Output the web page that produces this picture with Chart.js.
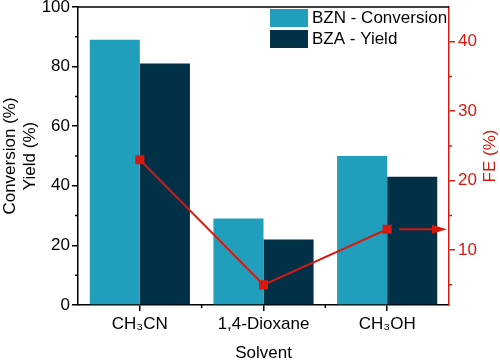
<!DOCTYPE html>
<html>
<head>
<meta charset="utf-8">
<script src="https://cdn.jsdelivr.net/npm/chart.js@4.4.0/dist/chart.umd.min.js"></script>
<style>
  html, body { margin: 0; padding: 0; background: #fff; }
  #wrap { width: 500px; height: 360px; }
</style>
</head>
<body>
<div id="wrap"><canvas id="chart" width="500" height="360"></canvas></div>
<script>
// ---- Data ----
const SOLVENTS = ['CH₃CN', '1,4-Dioxane', 'CH₃OH'];
const CONVERSION = [89, 29, 50];   // BZN - Conversion (%)
const YIELD = [81, 22, 43];        // BZA - Yield (%)
const FE = [23, 5, 13];            // FE (%)
const LEFT_TICKS = [0, 20, 40, 60, 80, 100];
const FE_TICKS = [10, 20, 30, 40];

const FONT = 'Liberation Sans, Arial, Helvetica, sans-serif';
const RED = '#d9190f';
const C_LIGHT = '#219ebc';
const C_DARK = '#023047';

// ---- Extra drawing: frame, minor ticks, arrow, right title, legend ----
const extras = {
    id: 'extras',
    afterDraw(chart) {
        const { ctx, chartArea: a, scales: { x, y, y1 } } = chart;
        ctx.save();

        // top frame line
        ctx.strokeStyle = '#000';
        ctx.lineWidth = 1.5;
        ctx.beginPath();
        ctx.moveTo(a.left, a.top);
        ctx.lineTo(a.right, a.top);
        ctx.stroke();

        // minor ticks left axis
        ctx.beginPath();
        for (let i = 0; i < LEFT_TICKS.length - 1; i++) {
            const py = y.getPixelForValue((LEFT_TICKS[i] + LEFT_TICKS[i + 1]) / 2);
            ctx.moveTo(a.left, py);
            ctx.lineTo(a.left - 3, py);
        }
        // minor ticks x axis (between categories)
        for (let i = 0; i < SOLVENTS.length - 1; i++) {
            const px = (x.getPixelForValue(i) + x.getPixelForValue(i + 1)) / 2;
            ctx.moveTo(px, a.bottom);
            ctx.lineTo(px, a.bottom + 3);
        }
        ctx.stroke();

        // minor ticks right axis
        ctx.strokeStyle = RED;
        ctx.beginPath();
        [5, 15, 25, 35].forEach(v => {
            const py = y1.getPixelForValue(v);
            ctx.moveTo(a.right, py);
            ctx.lineTo(a.right + 3, py);
        });
        ctx.stroke();

        // arrow pointing to FE axis
        const ay = y1.getPixelForValue(FE[2]);
        const ax0 = x.getPixelForValue(2) + 12;
        const tip = a.right - 2;
        ctx.lineWidth = 2;
        ctx.beginPath();
        ctx.moveTo(ax0, ay);
        ctx.lineTo(tip - 12, ay);
        ctx.stroke();
        ctx.fillStyle = RED;
        ctx.beginPath();
        ctx.moveTo(tip, ay);
        ctx.lineTo(tip - 15, ay - 4.5);
        ctx.lineTo(tip - 15, ay + 4.5);
        ctx.closePath();
        ctx.fill();

        // right axis title
        ctx.font = `17px ${FONT}`;
        ctx.textAlign = 'center';
        ctx.textBaseline = 'middle';
        ctx.translate(490, (a.top + a.bottom) / 2);
        ctx.rotate(-Math.PI / 2);
        ctx.fillText('FE (%)', 0, 0);
        ctx.setTransform(1, 0, 0, 1, 0, 0);

        // legend
        const items = chart.data.datasets.filter(d => d.type !== 'line');
        ctx.textAlign = 'left';
        items.forEach((d, i) => {
            const bx = a.right - 179;
            const by = a.top + 2 + i * 21;
            ctx.fillStyle = d.backgroundColor;
            ctx.fillRect(bx, by, 38, 18);
            ctx.fillStyle = '#000';
            ctx.fillText(d.label, bx + 42, by + 9.5);
        });

        ctx.restore();
    }
};

new Chart(document.getElementById('chart').getContext('2d'), {
    type: 'bar',
    data: {
        labels: SOLVENTS,
        datasets: [
            {
                type: 'line', label: 'FE', data: FE, yAxisID: 'y1', order: 0,
                borderColor: RED, backgroundColor: RED, borderWidth: 2,
                pointStyle: 'rect', pointRadius: 5, tension: 0
            },
            {
                label: 'BZN - Conversion', data: CONVERSION, yAxisID: 'y', order: 1,
                backgroundColor: C_LIGHT, categoryPercentage: 0.81, barPercentage: 1.0
            },
            {
                label: 'BZA - Yield', data: YIELD, yAxisID: 'y', order: 1,
                backgroundColor: C_DARK, categoryPercentage: 0.81, barPercentage: 1.0
            }
        ]
    },
    options: {
        responsive: false,
        animation: false,
        devicePixelRatio: 1,
        layout: { padding: { top: 7, right: 0, left: 0, bottom: 0 } },
        plugins: {
            legend: { display: false },
            tooltip: { enabled: false }
        },
        scales: {
            x: {
                offset: true,
                grid: { drawOnChartArea: false, offset: false, tickLength: 6, color: '#000', lineWidth: 1.5 },
                border: { color: '#000', width: 1.5 },
                ticks: { color: '#000', font: { family: FONT, size: 17 }, padding: 3, maxRotation: 0 },
                title: { display: true, text: 'Solvent', color: '#000', font: { family: FONT, size: 17 }, padding: { top: 8, bottom: -4 } },
                afterFit: s => { s.height = 55; s.paddingLeft = 0; s.paddingRight = 0; }
            },
            y: {
                position: 'left',
                min: 0, max: 100,
                afterBuildTicks: s => { s.ticks = LEFT_TICKS.map(v => ({ value: v })); },
                grid: { drawOnChartArea: false, tickLength: 6, color: '#000', lineWidth: 1.5 },
                border: { color: '#000', width: 1.5 },
                ticks: { color: '#000', font: { family: FONT, size: 17 }, padding: 2 },
                title: {
                    display: true, text: ['Conversion (%)', 'Yield (%)'], color: '#000',
                    font: { family: FONT, size: 17, lineHeight: 1.2 }, padding: { top: 0, bottom: 0 }
                },
                afterFit: s => { s.width = 78; s.paddingTop = 0; s.paddingBottom = 0; }
            },
            y1: {
                position: 'right',
                min: 2.1, max: 45,
                afterBuildTicks: s => { s.ticks = FE_TICKS.map(v => ({ value: v })); },
                grid: { drawOnChartArea: false, tickLength: 6, color: RED, lineWidth: 1.5 },
                border: { color: RED, width: 1.5 },
                ticks: { color: RED, font: { family: FONT, size: 17 }, padding: 3 },
                afterFit: s => { s.width = 51; s.paddingTop = 0; s.paddingBottom = 0; }
            }
        }
    },
    plugins: [extras]
});
</script>
</body>
</html>
